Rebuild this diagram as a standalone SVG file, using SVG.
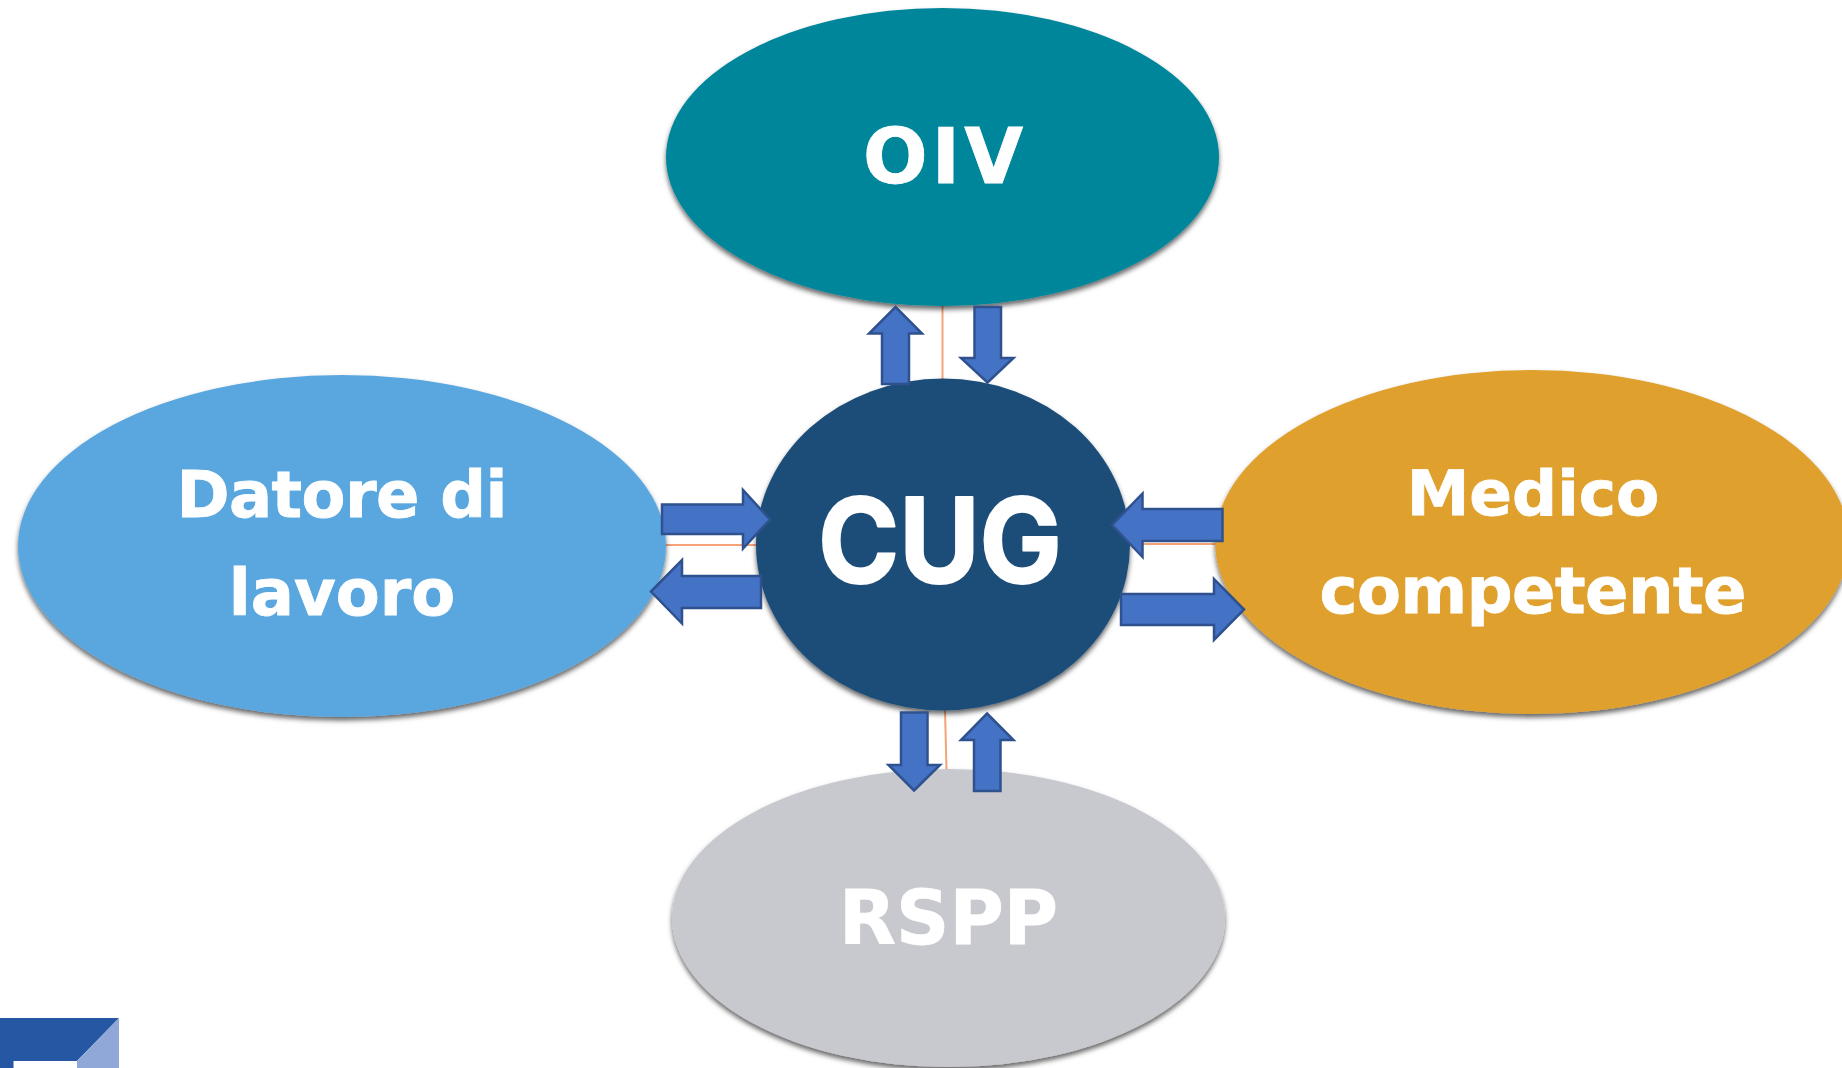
<svg xmlns="http://www.w3.org/2000/svg" width="1842" height="1068" viewBox="0 0 1842 1068">
<defs>
<filter id="sh" x="-5%" y="-5%" width="110%" height="112%"><feDropShadow dx="0" dy="3.500" stdDeviation="2.500" flood-color="#000" flood-opacity="0.6"/></filter>
</defs>
<style>
.n{filter:url(#sh)}
.t{font-family:"DejaVu Sans",Verdana,sans-serif;font-weight:700;fill:#fff;stroke:#fff;stroke-width:0.8;text-anchor:middle}
.a{fill:#4472c4;stroke:#2f528f;stroke-width:2.500;stroke-miterlimit:10}
.l{stroke:#f4a277;stroke-width:2;fill:none}
</style>
<rect width="1842" height="1068" fill="#fff"/>
<g id="connectors-lines">
<path class="l" d="M942.500 306V380"/>
<path class="l" d="M945 710L946.500 769"/>
<path class="l" d="M666 545H756"/>
<path class="l" d="M1142 544H1216"/>
</g>
<g id="node-oiv"><ellipse class="n" cx="942.500" cy="157" rx="276.500" ry="149" fill="#03869b"/><text class="t" x="943" y="183" font-size="76" textLength="160" lengthAdjust="spacing">OIV</text></g>
<g id="node-datore"><ellipse class="n" cx="342" cy="546" rx="324" ry="171" fill="#5aa7e0"/><text class="t" x="342" y="517" font-size="64" textLength="331" lengthAdjust="spacing">Datore di</text><text class="t" x="342" y="615" font-size="64">lavoro</text></g>
<g id="node-medico"><ellipse class="n" cx="1532" cy="542" rx="317" ry="172" fill="#dfa02e"/><text class="t" x="1533" y="515" font-size="63">Medico</text><text class="t" x="1533" y="613" font-size="64" textLength="427" lengthAdjust="spacing">competente</text></g>
<g id="node-rspp"><ellipse class="n" cx="948.500" cy="918" rx="276.500" ry="149" fill="#c8c8cf"/><text class="t" x="948.500" y="944" font-size="74" textLength="219" lengthAdjust="spacing">RSPP</text></g>
<g id="node-cug"><ellipse class="n" cx="943" cy="544.500" rx="187" ry="166" fill="#1f4e79"/><text x="940" y="583" font-family="Inter,'Noto Sans',sans-serif" font-weight="700" font-size="118" fill="#fff" stroke="#fff" stroke-width="2" stroke-linejoin="round" text-anchor="middle" textLength="244" lengthAdjust="spacingAndGlyphs">CUG</text></g>
<g id="connectors">
<polygon class="a" points="895.500,307 922,333.500 909,333.500 909,384 882,384 882,333.500 869,333.500"/>
<polygon class="a" points="987.500,382.500 1013.500,358 1001,358 1001,307 974.500,307 974.500,358 961,358"/>
<polygon class="a" points="770,519.500 743,490 743,504.500 662,504.500 662,534 743,534 743,548.500"/>
<polygon class="a" points="651,591.500 682,560 682,576 761,576 761,608 682,608 682,623.500"/>
<polygon class="a" points="1112,525 1142.500,493.500 1142.500,509 1222.500,509 1222.500,541 1142.500,541 1142.500,557"/>
<polygon class="a" points="1244,609.500 1214,579 1214,594 1121,594 1121,625 1214,625 1214,640"/>
<polygon class="a" points="914,790.500 940,765 927.500,765 927.500,712.500 901,712.500 901,765 888.500,765"/>
<polygon class="a" points="987,713.500 1013.500,740 1000.500,740 1000.500,791 974,791 974,740 961,740"/>
</g>
<g id="logo">
<polygon points="0,1018 119,1018 77,1061 13.500,1061 13.500,1068 0,1068" fill="#2557a3"/>
<polygon points="119,1018 119,1068 77,1068 77,1061" fill="#8fa8d8"/>
</g>
</svg>
